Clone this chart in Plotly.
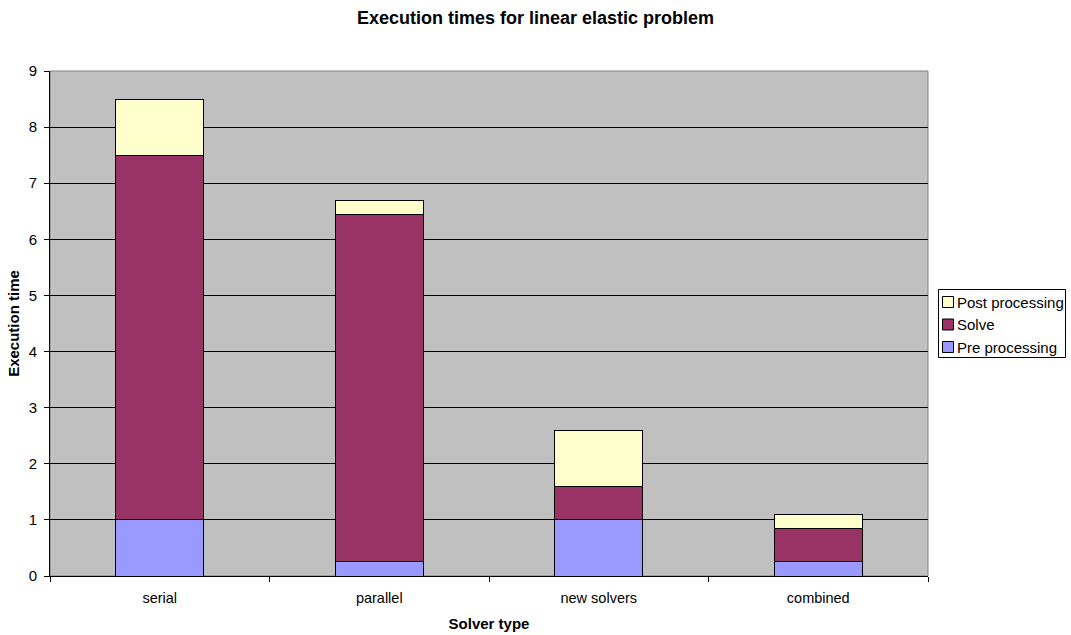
import plotly.graph_objects as go

categories = ["serial", "parallel", "new solvers", "combined"]
pre_processing = [1.0, 0.25, 1.0, 0.25]
solve = [6.5, 6.2, 0.6, 0.6]
post_processing = [1.0, 0.25, 1.0, 0.25]

series_names = ["Pre processing", "Solve", "Post processing"]
series_colors = ["#9999FF", "#993366", "#FFFFCC"]
series_values = [pre_processing, solve, post_processing]

W, H = 1071, 635
L, R, T, B = 50, 928, 71, 576


def px(x):
    return (x - L) / (R - L)


def py(y):
    return (B - y) / (B - T)


fig = go.Figure()
for name, color, vals in zip(series_names, series_colors, series_values):
    fig.add_trace(go.Bar(
        x=categories, y=vals, name=name, showlegend=False,
        marker=dict(color=color, line=dict(color="black", width=1)),
    ))

font_family = "Liberation Sans, Arial, sans-serif"
fig.update_layout(
    width=W, height=H,
    barmode="stack", bargap=0.6,
    paper_bgcolor="white", plot_bgcolor="#C0C0C0",
    margin=dict(l=L, r=W - R, t=T, b=H - B, autoexpand=False),
    font=dict(family=font_family, size=15, color="black"),
    title=dict(text="<b>Execution times for linear elastic problem</b>",
               x=0.5, xanchor="center", y=1 - 18 / H, yanchor="middle",
               font=dict(size=18)),
    showlegend=False,
    xaxis=dict(title=dict(text="<b>Solver type</b>", standoff=13, font=dict(size=15)),
               showline=True, linecolor="black", linewidth=1,
               ticks="outside", ticklen=5, tickcolor="black", tickson="boundaries",
               ticklabelstandoff=9, tickfont=dict(size=14.5),
               showgrid=False),
    yaxis=dict(title=dict(text="<b>Execution time</b>", standoff=5, font=dict(size=15)),
               range=[0, 9], dtick=1, showline=True, linecolor="black", linewidth=1,
               ticks="outside", ticklen=5, tickcolor="black", ticklabelstandoff=4,
               tickfont=dict(size=15),
               showgrid=True, gridcolor="black", gridwidth=1, zeroline=False),
)
fig.add_shape(type="rect", xref="paper", yref="paper", x0=0, x1=1, y0=0, y1=1,
              line=dict(color="#808080", width=1), layer="below")

# legend box (drawn manually to match the compact original layout)
fig.add_shape(type="rect", xref="paper", yref="paper",
              x0=px(938.5), x1=px(1065.5), y0=py(357.5), y1=py(289.5),
              line=dict(color="black", width=1), fillcolor="white")
row_y = [302, 324.5, 347]
for i, (name, color) in enumerate(zip(reversed(series_names), reversed(series_colors))):
    yc = row_y[i]
    fig.add_shape(type="rect", xref="paper", yref="paper",
                  x0=px(942.5), x1=px(953.5), y0=py(yc + 5.5), y1=py(yc - 5.5),
                  line=dict(color="black", width=1), fillcolor=color)
    fig.add_annotation(text=name, xref="paper", yref="paper", x=px(955), y=py(yc),
                       xanchor="left", yanchor="middle", showarrow=False,
                       font=dict(size=15))

fig.write_html("out.html", config={"displayModeBar": False},
               post_script="document.body.style.margin='0';document.body.style.padding='0';")
